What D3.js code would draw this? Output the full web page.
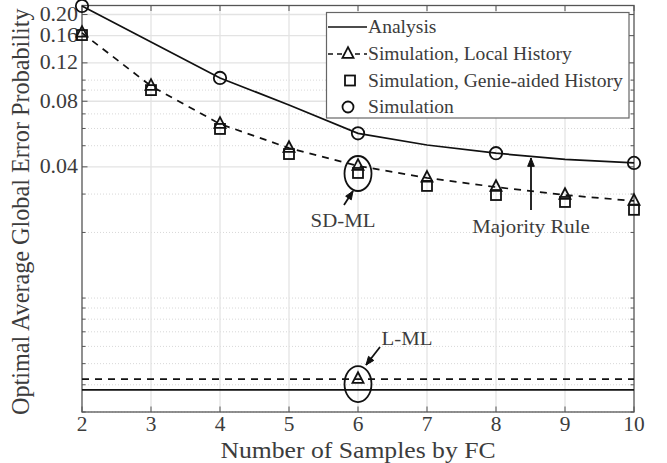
<!DOCTYPE html>
<html><head><meta charset="utf-8">
<script src="https://cdn.jsdelivr.net/npm/d3@7"></script>
<style>
body{margin:0;background:#fff;}
svg{display:block;}
text{font-family:"Liberation Serif","Times New Roman",serif;}
</style></head>
<body><svg id="c" width="667" height="463"></svg>
<script>
// ---- data ----
const samples = [2,3,4,5,6,7,8,9,10];
const analysis = [0.219,0.1497,0.1023,0.0769,0.0570,0.0504,0.0462,0.0433,0.0417];
const simSamples = [2,4,6,8,10];
const simulation = [0.219,0.1023,0.0570,0.0462,0.0417];
const localHistory = [0.1647,0.0940,0.0629,0.0488,0.0404,0.0356,0.0323,0.0297,0.0279];
const genieHistory = [0.161,0.0900,0.0597,0.0458,0.0375,0.0327,0.0297,0.0276,0.0254];
const lmlAnalysis = 0.00379;
const lmlSimulation = 0.00425;
const lmlSimX = 6;
const yTickValues = [0.04,0.08,0.12,0.16,0.20];
const yTickLabels = ["0.04","0.08","0.12","0.16","0.20"];
const yMinorValues = [0.003,0.004,0.005,0.006,0.007,0.008,0.009,0.01,0.02,0.03,0.05,0.06,0.07,0.09,0.1,0.2];
const xTickValues = [2,3,4,5,6,7,8,9,10];
const legendLabels = ["Analysis","Simulation, Local History","Simulation, Genie-aided History","Simulation"];

// ---- layout ----
const L=82,R=634,T=5.5,B=412;
const SX=1.07; // horizontal text stretch
const svg=d3.select("#c");
const x=d3.scaleLinear().domain([2,10]).range([L,R]);
const y=d3.scaleLog().domain([0.003,0.22]).range([B,T]);
const gridC="#e3e3e3", axC="#555", txtC="#3c3c3c";

function stext(g,tx,ty,str,size,anchor,rot){
  const t=g.append("text").attr("transform",`translate(${tx},${ty}) scale(${SX},1)`+(rot?` rotate(${rot})`:""))
    .attr("font-size",size).attr("fill",txtC).attr("text-anchor",anchor||"start").text(str);
  return t;
}

// grid
const grid=svg.append("g");
grid.selectAll(".gm").data(yMinorValues.filter(v=>!yTickValues.some(t=>Math.abs(t-v)<1e-9))).join("line")
  .attr("x1",L).attr("x2",R).attr("y1",d=>y(d)).attr("y2",d=>y(d))
  .attr("stroke","#d8d8d8").attr("stroke-width",1).attr("stroke-dasharray","1,2");
grid.selectAll(".gy").data(yTickValues).join("line")
  .attr("x1",L).attr("x2",R).attr("y1",d=>y(d)).attr("y2",d=>y(d))
  .attr("stroke",gridC).attr("stroke-width",1.3);
grid.selectAll(".gx").data(xTickValues.slice(1,-1)).join("line")
  .attr("x1",d=>x(d)).attr("x2",d=>x(d)).attr("y1",T).attr("y2",B)
  .attr("stroke",gridC).attr("stroke-width",1.3);

// axes box and ticks
const ax=svg.append("g");
const tk=5.5, tkm=3.5;
const xb=d3.axisBottom(x).tickValues(xTickValues).tickSize(0).tickFormat(d3.format("d"));
ax.selectAll(".xt").data(xTickValues).join("line")
  .attr("x1",d=>x(d)).attr("x2",d=>x(d)).attr("y1",B).attr("y2",B-tk).attr("stroke",axC);
ax.selectAll(".xtt").data(xTickValues).join("line")
  .attr("x1",d=>x(d)).attr("x2",d=>x(d)).attr("y1",T).attr("y2",T+tk).attr("stroke",axC);
[L,R].forEach((px,i)=>{
  const dir=i===0?1:-1;
  ax.selectAll(".ym"+i).data(yMinorValues).join("line")
    .attr("x1",px).attr("x2",px+dir*tkm).attr("y1",d=>y(d)).attr("y2",d=>y(d)).attr("stroke",axC);
  ax.selectAll(".yM"+i).data(yTickValues).join("line")
    .attr("x1",px).attr("x2",px+dir*tk).attr("y1",d=>y(d)).attr("y2",d=>y(d)).attr("stroke",axC);
});
ax.append("rect").attr("x",L).attr("y",T).attr("width",R-L).attr("height",B-T)
  .attr("fill","none").attr("stroke",axC).attr("stroke-width",1.3);

// tick labels
const labs=svg.append("g");
xTickValues.forEach(v=>stext(labs,x(v),B+19,xb.tickFormat()(v),20,"middle"));
yTickValues.forEach((v,i)=>stext(labs,L-4,y(v)+6.5,yTickLabels[i],20.5,"end"));

// axis titles
stext(svg,(L+R)/2-0,B+46,"Number of Samples by FC",24,"middle");
stext(svg,29,(T+B)/2+3,"Optimal Average Global Error Probability",24.2,"middle",-90);

// lines
const line=d3.line().x(d=>x(d[0])).y(d=>y(d[1]));
svg.append("path").datum(samples.map((s,i)=>[s,analysis[i]])).attr("d",line)
  .attr("fill","none").attr("stroke","#111").attr("stroke-width",1.7);
svg.append("path").datum(samples.map((s,i)=>[s,localHistory[i]])).attr("d",line)
  .attr("fill","none").attr("stroke","#111").attr("stroke-width",1.7).attr("stroke-dasharray","7,6");
svg.append("line").attr("x1",L).attr("x2",R).attr("y1",y(lmlAnalysis)).attr("y2",y(lmlAnalysis))
  .attr("stroke","#111").attr("stroke-width",1.7);
svg.append("line").attr("x1",L).attr("x2",R).attr("y1",y(lmlSimulation)).attr("y2",y(lmlSimulation))
  .attr("stroke","#111").attr("stroke-width",1.7).attr("stroke-dasharray","7,6");

// markers
const tri=(cx,cy,s)=>`M${cx},${cy-s*0.8}L${cx+s*0.65},${cy+s*0.45}L${cx-s*0.65},${cy+s*0.45}Z`;
const mk=svg.append("g").attr("fill","none").attr("stroke","#111").attr("stroke-width",1.8);
samples.forEach((s,i)=>{
  mk.append("rect").attr("x",x(s)-5).attr("y",y(genieHistory[i])-5).attr("width",10).attr("height",10);
});
samples.forEach((s,i)=>{
  mk.append("path").attr("d",tri(x(s),y(localHistory[i]),8.5));
});
simSamples.forEach((s,i)=>{
  mk.append("circle").attr("cx",x(s)).attr("cy",y(simulation[i])).attr("r",6.2);
});
mk.append("path").attr("d",tri(x(lmlSimX),y(lmlSimulation),8.5));

// annotations
const an=svg.append("g").attr("fill","none").attr("stroke","#111").attr("stroke-width",1.8);
an.append("ellipse").attr("cx",x(6)).attr("cy",y(0.0389)+4).attr("rx",13.5).attr("ry",17.5);
an.append("ellipse").attr("cx",x(lmlSimX)).attr("cy",y(lmlSimulation)+5).attr("rx",13.5).attr("ry",18);
function arrow(x1,y1,x2,y2){
  an.append("line").attr("x1",x1).attr("y1",y1).attr("x2",x2).attr("y2",y2);
  const a=Math.atan2(y2-y1,x2-x1), h=9, w=0.38;
  an.append("path").attr("d",`M${x2},${y2}L${x2-h*Math.cos(a-w)},${y2-h*Math.sin(a-w)}L${x2-h*Math.cos(a+w)},${y2-h*Math.sin(a+w)}Z`)
    .attr("fill","#111").attr("stroke-width",1);
}
arrow(344,205,353,191);
arrow(531,210,531,158);
arrow(380,347,366,365);
stext(svg,343,227,"SD-ML",19.5,"middle");
stext(svg,531,233,"Majority Rule",19.5,"middle");
stext(svg,407,345,"L-ML",19.5,"middle");

// legend
const lg=svg.append("g");
lg.append("rect").attr("x",326.5).attr("y",12.5).attr("width",302.5).attr("height",105.5)
  .attr("fill","#fff").attr("stroke","#666").attr("stroke-width",1.2);
const ly=[27,54,80.5,107];
const lx0=328,lx1=367,lxm=348,ltx=368;
lg.append("line").attr("x1",lx0).attr("x2",lx1).attr("y1",ly[0]).attr("y2",ly[0]).attr("stroke","#111").attr("stroke-width",1.7);
lg.append("line").attr("x1",lx0).attr("x2",lx1).attr("y1",ly[1]).attr("y2",ly[1]).attr("stroke","#111").attr("stroke-width",1.7).attr("stroke-dasharray","5,4");
lg.append("path").attr("d",tri(lxm,ly[1],8.5)).attr("fill","#fff").attr("stroke","#111").attr("stroke-width",1.8);
lg.append("rect").attr("x",lxm+2-5).attr("y",ly[2]-5).attr("width",10).attr("height",10).attr("fill","none").attr("stroke","#111").attr("stroke-width",1.8);
lg.append("circle").attr("cx",lxm).attr("cy",ly[3]).attr("r",5.5).attr("fill","none").attr("stroke","#111").attr("stroke-width",1.8);
legendLabels.forEach((t,i)=>stext(lg,ltx,ly[i]+6,t,18.3,"start"));
</script></body></html>
